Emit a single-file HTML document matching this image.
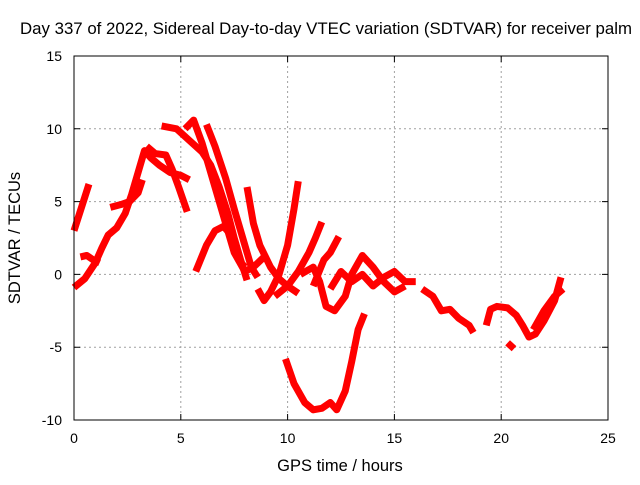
<!DOCTYPE html>
<html><head><meta charset="utf-8"><style>
body{margin:0;background:#fff}
svg text{font-family:"Liberation Sans",sans-serif;font-size:14px;fill:#000}
</style></head><body>
<svg id="chart" width="640" height="480" xmlns="http://www.w3.org/2000/svg">
<rect width="640" height="480" fill="#fff"/>
<text x="20" y="34" textLength="612" lengthAdjust="spacingAndGlyphs" style="font-size:16.5px">Day 337 of 2022, Sidereal Day-to-day VTEC variation (SDTVAR) for receiver palm</text>
<g id="grid"></g>
<g id="series"></g>
<rect x="74" y="56" width="534" height="364" fill="none" stroke="#000" stroke-width="1"/>
<g id="axes"></g>
<text x="340" y="471" text-anchor="middle" style="font-size:16.5px">GPS time / hours</text>
<text transform="translate(20,238) rotate(-90)" text-anchor="middle" style="font-size:16.5px">SDTVAR / TECUs</text>
</svg>
<script>
const xTicks=[0,5,10,15,20,25];
const yTicks=[-10,-5,0,5,10,15];
const trackA=[[0,-0.9],[0.5,-0.3],[1,0.8],[1.3,1.8],[1.6,2.7],[2,3.2],[2.4,4.2],[2.7,5.5],[3,7],[3.3,8.5],[3.6,8.0],[4,7.5],[4.5,7],[5,6.8],[5.4,6.5]];
const trackB=[[0,3.0],[0.35,4.6],[0.7,6.2]];
const trackC=[[0.3,1.2],[0.6,1.3],[0.9,1.0],[1.2,0.8]];
const trackD=[[1.7,4.6],[2.2,4.8],[2.6,5.0],[3,5.6],[3.2,6.5]];
const trackE=[[3.4,8.8],[3.8,8.3],[4.3,8.2],[4.6,7.2],[4.9,6.0],[5.3,4.3]];
const trackF=[[4.1,10.2],[4.8,10],[5.4,9.2],[6,8.4],[6.4,7.5],[6.8,6.0],[7.2,4.2],[7.5,2.5],[7.8,1],[8.1,-0.4]];
const trackG=[[5.2,10.0],[5.6,10.6],[6,9],[6.5,6.5],[7,4],[7.5,1.5],[8,0.2],[8.4,0.5],[8.9,1.2]];
const trackH=[[6.2,10.3],[6.6,8.8],[7.1,6.6],[7.5,4.5],[7.9,2.5],[8.3,0.5],[8.6,-0.2]];
const trackI=[[5.7,0.2],[6.2,2],[6.6,3],[7,3.3],[7.3,2.8],[7.7,1.0],[8,0.5]];
const trackJ=[[8.1,6],[8.4,3.5],[8.7,2],[9.2,0.5],[9.6,-0.3],[10,-0.8],[10.5,-1.3]];
const trackK=[[8.6,-1],[8.9,-1.8],[9.2,-1.2],[9.6,0],[10,2],[10.3,4.5],[10.5,6.4]];
const trackL=[[9.4,-1.5],[10,-0.8],[10.5,0.2],[11,1.5],[11.3,2.5],[11.6,3.6]];
const trackM=[[10.6,0],[11.2,0.5],[11.5,-0.5],[11.8,-2.2],[12.2,-2.5],[12.7,-1.5],[13,0],[13.5,1.3],[14,0.5],[14.5,-0.5],[15,-1.2],[15.5,-0.8]];
const trackN=[[11.2,-0.8],[11.7,1.0],[12,1.5],[12.4,2.6]];
const trackO=[[12,-1],[12.5,0.2],[13,-0.5],[13.5,0],[14,-0.8],[14.5,-0.2],[15,0.2],[15.5,-0.5],[16,-0.5]];
const trackP=[[9.9,-5.8],[10.3,-7.5],[10.8,-8.8],[11.2,-9.3],[11.6,-9.2],[12,-8.8],[12.3,-9.3],[12.7,-8],[13,-6],[13.3,-3.8],[13.6,-2.7]];
const trackQ=[[16.3,-1],[16.8,-1.5],[17.2,-2.5],[17.6,-2.4],[18.0,-3],[18.5,-3.5],[18.7,-4]];
const trackR=[[19.3,-3.5],[19.5,-2.4],[19.8,-2.2],[20.3,-2.3],[20.7,-2.8],[21,-3.5],[21.3,-4.3],[21.6,-4.1],[22,-3.2],[22.5,-1.8],[22.8,-0.2]];
const trackS=[[20.3,-4.7],[20.6,-5.1]];
const trackT=[[21.5,-3.8],[22,-2.5],[22.5,-1.5],[22.9,-1]];
const tracks=[trackA,trackB,trackC,trackD,trackE,trackF,trackG,trackH,trackI,trackJ,trackK,trackL,trackM,trackN,trackO,trackP,trackQ,trackR,trackS,trackT];
const NS="http://www.w3.org/2000/svg";
const X=h=>74+h/25*534, Y=v=>56+(15-v)/25*364;
const grid=document.getElementById('grid'),axes=document.getElementById('axes'),ser=document.getElementById('series');
xTicks.forEach(t=>{
 if(t>0&&t<25){const l=document.createElementNS(NS,'line');
 
 
 l.setAttribute('x1',X(t));l.setAttribute('x2',X(t));l.setAttribute('y1',56);l.setAttribute('y2',420);
 l.setAttribute('stroke','#a0a0a0');l.setAttribute('stroke-dasharray','2,3');grid.appendChild(l);}
 const tk=document.createElementNS(NS,'text');
 
 
 tk.setAttribute('x',X(t));tk.setAttribute('y',443);tk.setAttribute('text-anchor','middle');tk.textContent=t;axes.appendChild(tk);
 const m=document.createElementNS(NS,'path');
 
 
 m.setAttribute('d',`M${X(t)},420v-6M${X(t)},56v6`);m.setAttribute('stroke','#000');axes.appendChild(m);
});
yTicks.forEach(t=>{
 if(t>-10&&t<15){const l=document.createElementNS(NS,'line');
 
 
 l.setAttribute('x1',74);l.setAttribute('x2',608);l.setAttribute('y1',Y(t));l.setAttribute('y2',Y(t));
 l.setAttribute('stroke','#a0a0a0');l.setAttribute('stroke-dasharray','2,3');grid.appendChild(l);}
 const tk=document.createElementNS(NS,'text');
 
 
 tk.setAttribute('x',62);tk.setAttribute('y',Y(t)+5);tk.setAttribute('text-anchor','end');tk.textContent=t;axes.appendChild(tk);
 const m=document.createElementNS(NS,'path');
 
 
 m.setAttribute('d',`M74,${Y(t)}h6M608,${Y(t)}h-6`);m.setAttribute('stroke','#000');axes.appendChild(m);
});
tracks.forEach(tr=>{
 const p=document.createElementNS(NS,'polyline');
 
 
 p.setAttribute('points',tr.map(d=>X(d[0])+','+Y(d[1])).join(' '));
 p.setAttribute('fill','none');p.setAttribute('stroke','#ff0000');p.setAttribute('stroke-width','7');
 p.setAttribute('stroke-linejoin','round');
 ser.appendChild(p);
});
</script>
</body></html>
